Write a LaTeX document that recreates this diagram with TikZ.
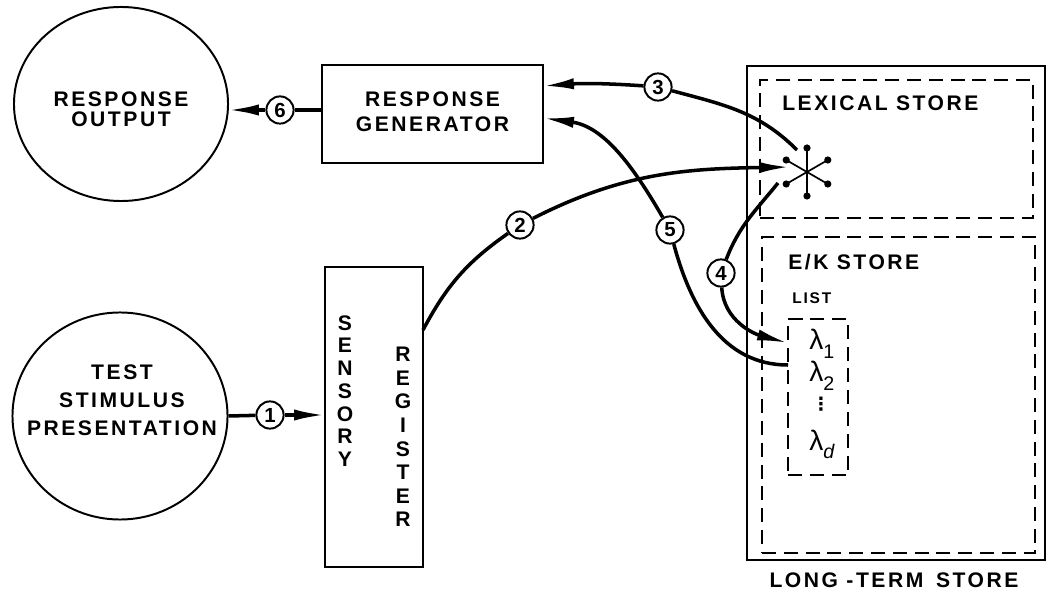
\documentclass[tikz,border=0pt]{standalone}
\usepackage{fontspec}
\setmainfont{Liberation Sans}
\newfontfamily\lbl[LetterSpace=12]{Liberation Sans}
\newfontfamily\dejavu{DejaVu Sans}
\usetikzlibrary{arrows.meta,shapes.geometric}
\begin{document}
\begin{tikzpicture}[x=0.025cm,y=-0.025cm,
  box/.style={draw, line width=1.4pt, inner sep=0pt},
  dbox/.style={draw, line width=1.4pt, dash pattern=on 10pt off 5.5pt, inner sep=0pt},
  conn/.style={line width=2.5pt},
  arr/.style={conn, -{Latex[length=22pt,width=8pt]}},
  num/.style={circle, draw, line width=1.4pt, fill=white, minimum size=0.68cm, inner sep=0pt, font=\fontsize{14.5}{14.5}\selectfont\bfseries},
  txt/.style={font=\lbl\bfseries\fontsize{15}{18}\selectfont, align=center, inner sep=0pt},
  stack/.style={font=\bfseries\fontsize{15}{16.4}\selectfont, align=center, inner sep=0pt},
  lam/.style={font=\fontsize{20}{20}\selectfont, inner sep=0pt, anchor=base west},
  dot/.style={circle, fill, inner sep=0pt, minimum size=0.18cm},
]
\useasboundingbox (0,0) rectangle (1047,603);

% main shapes
\node[ellipse, draw, line width=1.4pt, minimum width=5.35cm, minimum height=4.85cm] (ro) at (121,104) {};
\node[txt, font=\lbl\bfseries\fontsize{15}{14}\selectfont] (rotxt) at (121,109) {RESPONSE\\OUTPUT};

\node[box, minimum width=5.525cm, minimum height=2.45cm] (rg) at (432.5,114) {};
\node[txt, font=\lbl\bfseries\fontsize{15}{17.8}\selectfont] (rgtxt) at (432.5,112) {RESPONSE\\GENERATOR};

\node[ellipse, draw, line width=1.4pt, minimum width=5.375cm, minimum height=5.175cm] (ts) at (120,416) {};
\node[txt, font=\lbl\bfseries\fontsize{15}{20}\selectfont] (tstxt) at (122,400) {TEST\\STIMULUS\\PRESENTATION};

\node[box, minimum width=2.45cm, minimum height=7.5cm] (sr) at (374,417) {};
\node[stack, font=\bfseries\fontsize{15}{16.2}\selectfont] (srs) at (345,391) {S\\E\\N\\S\\O\\R\\Y};
\node[stack, font=\bfseries\fontsize{15}{16.8}\selectfont] (srr) at (403,437) {R\\E\\G\\I\\S\\T\\E\\R};

% long-term store
\node[box, minimum width=7.45cm, minimum height=12.35cm] (lts) at (896,313) {};
\node[txt] (ltstxt) at (894,580) {LONG -TERM\hspace{0.6em}STORE};
\node[dbox, minimum width=6.825cm, minimum height=3.45cm] (lex) at (896.5,149) {};
\node[txt, anchor=west] (lextxt) at (782,103) {LEXICAL STORE};
\node[dbox, minimum width=6.825cm, minimum height=7.9cm] (ek) at (898.5,395) {};
\node[txt, anchor=west] (ektxt) at (788,262) {E/K STORE};
\node[txt, anchor=west, font=\lbl\bfseries\fontsize{11}{11}\selectfont] (listtxt) at (792,298) {LIST};
\node[dbox, minimum width=1.5cm, minimum height=3.9cm] (list) at (818,397) {};
\node[lam] (l1) at (809,350) {λ\raisebox{-5.7pt}{\fontsize{14}{14}\selectfont 1}};
\node[lam] (l2) at (809,382) {λ\raisebox{-5.7pt}{\fontsize{14}{14}\selectfont 2}};
\node[inner sep=0pt, font=\dejavu\bfseries\fontsize{13}{13}\selectfont] (ldots) at (821,404) {⋮};
\node[lam] (ld) at (809,450) {λ\raisebox{-5.7pt}{\fontsize{14}{14}\selectfont\itshape d}};

% asterisk
\coordinate (ast) at (807,172);
\foreach \a in {30,90,150,210,270,330}
  \draw[line width=1.2pt] (ast) -- ++(\a:24) node[dot] (d\a) {};

% connector end points
\coordinate (a1e) at (325,415);
\coordinate (a2s) at (423,330);
\coordinate (a2e) at (790,167);
\coordinate (a3s) at (797,150);
\coordinate (a3e) at (543,86);
\coordinate (a4s) at (778,183);
\coordinate (a4e) at (788,343);
\coordinate (a5s) at (788,365);
\coordinate (a5e) at (543,118);
\coordinate (a6s) at (322,110);
\coordinate (a6e) at (228,110);

% numbered labels
\node[num] (n1) at (270,415) {1};
\node[num] (n2) at (520,225) {2};
\node[num] (n3) at (658,87) {3};
\node[num] (n4) at (721,273) {4};
\node[num] (n5) at (670,230) {5};
\node[num] (n6) at (280,110) {6};

% connectors
\draw[conn] (ts.east) -- (n1);
\draw[arr] (n1) -- (a1e);

\draw[conn] (a2s) to[out=62,in=-145] (n2);
\draw[arr] (n2) to[out=27,in=181] (a2e);

\draw[conn] (a3s) to[out=135,in=-15] (n3);
\draw[arr] (n3) to[bend right=4] (a3e);

\draw[conn] (a4s) to[out=231,in=69] (n4);
\draw[arr] (n4) to[out=-87,in=165] (a4e);

\draw[conn] (a5s) to[out=180,in=-75] (n5);
\draw[arr] (n5) to[out=120,in=-8] (a5e);

\draw[conn] (a6s) -- (n6);
\draw[arr] (n6) -- (a6e);
\end{tikzpicture}
\end{document}
